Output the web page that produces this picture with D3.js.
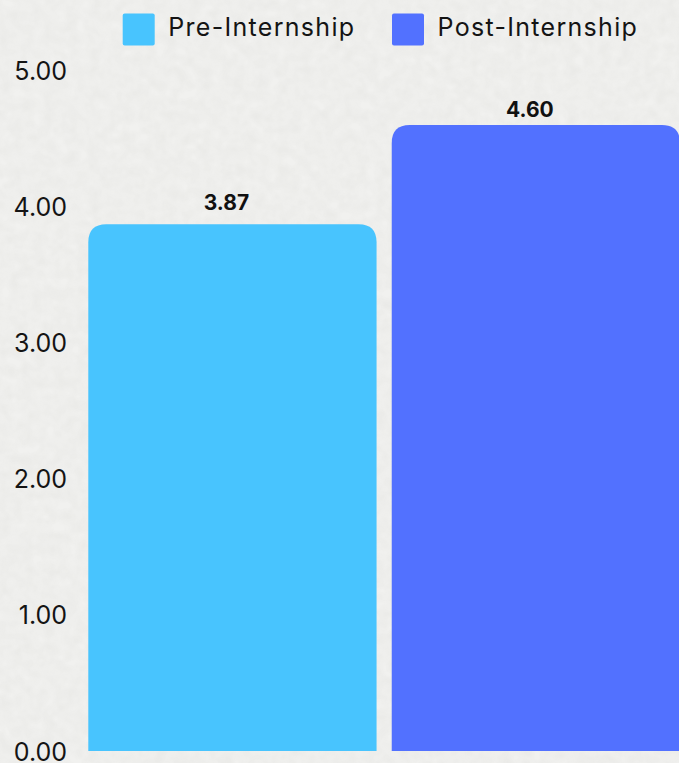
<!DOCTYPE html>
<html>
<head>
<meta charset="utf-8">
<script src="https://cdn.jsdelivr.net/npm/d3@7"></script>
<style>
  html, body { margin: 0; padding: 0; background: #efefed; }
  svg { display: block; }
  text { font-family: Inter, "Noto Sans", sans-serif; }
</style>
</head>
<body>
<svg id="chart" width="679" height="763"></svg>
<script>
const categories = ["Pre-Internship", "Post-Internship"];
const values = [3.87, 4.60];
const colors = ["#48C4FE", "#5271FF"];
const yTicks = [0, 1, 2, 3, 4, 5];

const W = 679, H = 763;
const svg = d3.select("#chart");

// textured paper background
const defs = svg.append("defs");
const f = defs.append("filter").attr("id", "paper").attr("x", 0).attr("y", 0).attr("width", "100%").attr("height", "100%");
f.append("feTurbulence").attr("type", "fractalNoise").attr("baseFrequency", 0.09).attr("numOctaves", 2).attr("seed", 3).attr("result", "noise");
f.append("feColorMatrix").attr("in", "noise").attr("type", "matrix")
  .attr("values", "0 0 0 0 0.5  0 0 0 0 0.5  0 0 0 0 0.48  0.12 0.12 0.12 0 -0.12");
svg.append("rect").attr("width", W).attr("height", H).attr("fill", "#f1f1ef");
svg.append("rect").attr("width", W).attr("height", H).attr("filter", "url(#paper)").attr("opacity", 0.9);

const x = d3.scaleBand().domain(categories).range([88.3, 680]).paddingInner(0.05).paddingOuter(0);
const y = d3.scaleLinear().domain([0, 5]).range([751, 70.5]);

// y axis labels
const yAxis = d3.axisLeft(y).tickValues(yTicks).tickFormat(d3.format(".2f")).tickSize(0).tickPadding(0);
const ga = svg.append("g").attr("transform", "translate(67,0)").call(yAxis);
ga.select(".domain").remove();
ga.selectAll("text").attr("font-size", 25).attr("fill", "#141414")
  .attr("font-family", "Inter, sans-serif").attr("dy", "0.36em");

// bars with rounded top corners
const r = 18;
function barPath(x0, w, yTop, yBot) {
  return `M${x0},${yBot} L${x0},${yTop + r} Q${x0},${yTop} ${x0 + r},${yTop} ` +
         `L${x0 + w - r},${yTop} Q${x0 + w},${yTop} ${x0 + w},${yTop + r} L${x0 + w},${yBot} Z`;
}
svg.append("g").selectAll("path").data(values).join("path")
  .attr("d", (d, i) => barPath(x(categories[i]), x.bandwidth(), y(d), y(0)))
  .attr("fill", (d, i) => colors[i]);

// value labels
svg.append("g").selectAll("text").data(values).join("text")
  .attr("x", (d, i) => x(categories[i]) + x.bandwidth() / 2 - 6)
  .attr("y", d => y(d) * 0.936)
  .attr("text-anchor", "middle")
  .attr("font-size", 21).attr("font-weight", 700).attr("fill", "#111")
  .text(d => d3.format(".2f")(d));

// legend
const legendX = [122.7, 392];
const lg = svg.append("g").selectAll("g").data(categories).join("g")
  .attr("transform", (d, i) => `translate(${legendX[i]},13.5)`);
lg.append("rect").attr("width", 32).attr("height", 32).attr("rx", 2)
  .attr("fill", (d, i) => colors[i]);
lg.append("text").attr("x", 45.5).attr("y", 22.2)
  .attr("font-size", 25).attr("letter-spacing", 1.3).attr("fill", "#141414")
  .text(d => d);
</script>
</body>
</html>
